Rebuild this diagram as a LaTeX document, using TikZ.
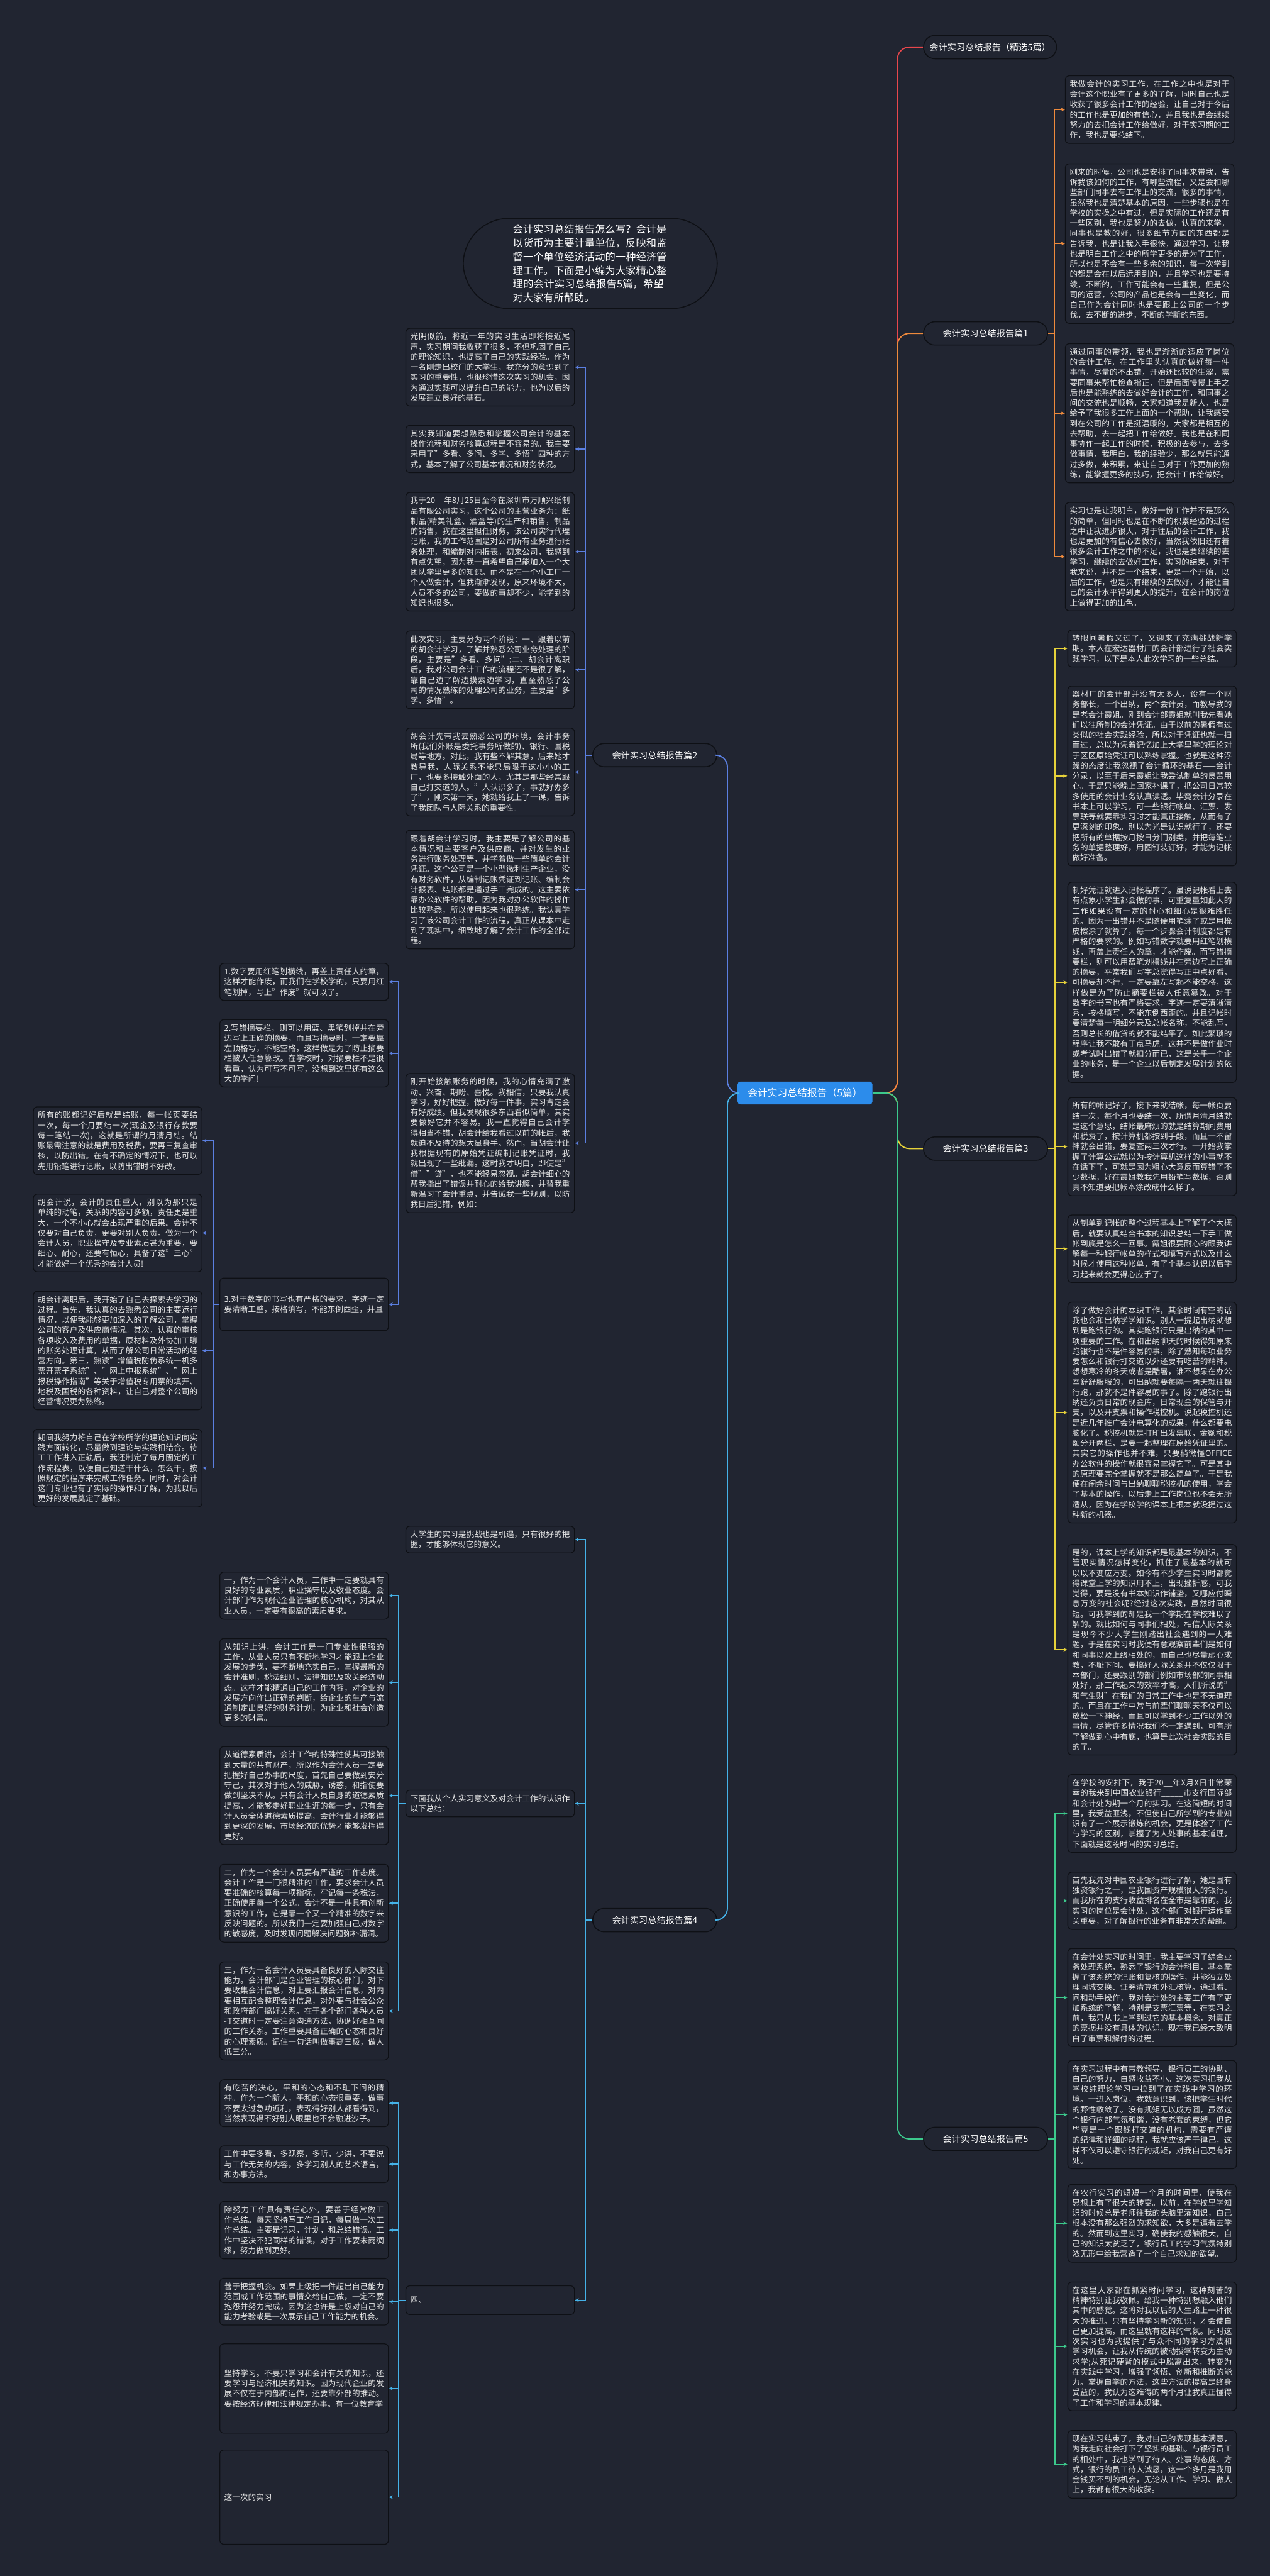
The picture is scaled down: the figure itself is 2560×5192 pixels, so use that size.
\documentclass[tikz,border=0pt]{standalone}
\usepackage{fontspec}
\setmainfont{Noto Sans CJK SC}
\usetikzlibrary{arrows.meta}
\XeTeXlinebreaklocale "zh"
\XeTeXlinebreakskip=0pt plus 1pt
\setlength{\parindent}{0pt}

\definecolor{bg}{HTML}{212531}
\definecolor{boxline}{HTML}{0E1015}
\definecolor{txt}{HTML}{E8E8E8}
\definecolor{rootblue}{HTML}{2C8CEB}
\definecolor{cred}{HTML}{E8474C}
\definecolor{corange}{HTML}{EE8A3C}
\definecolor{cyellow}{HTML}{E6D23A}
\definecolor{cgreen}{HTML}{3CC98C}
\definecolor{cblue}{HTML}{5B7FE0}
\definecolor{ccyan}{HTML}{45B2E8}

\tikzset{
  leaf/.style={draw=boxline, fill=bg, rounded corners=4pt, line width=0.8pt, text=txt,
    text width=161pt, inner xsep=4.5pt, inner ysep=4.5pt, align=justify,
    font=\fontsize{8}{10.3}\selectfont},
  branch/.style={draw=boxline, fill=bg, rounded corners=11.5pt, line width=1pt, text=white,
    minimum width=125pt, minimum height=23.5pt, inner xsep=6pt, font=\fontsize{9}{11}\selectfont},
  rootnode/.style={fill=rootblue, rounded corners=3pt, text=white, minimum width=136pt,
    minimum height=23pt, font=\fontsize{10}{12}\selectfont},
  intro/.style={draw=boxline, fill=bg, rounded corners=46pt, line width=1pt, text=white,
    text width=156pt, align=left, inner xsep=50pt, inner ysep=6pt,
    font=\fontsize{10.3}{13.85}\selectfont},
  link/.style={draw=#1, line width=1pt, -{Stealth[length=4pt,width=3.6pt]}},
  trunk/.style={draw=#1, line width=1.2pt, rounded corners=12pt}
}

\begin{document}
\begin{tikzpicture}[x=0.5pt,y=-0.5pt]
  \fill[bg] (0,0) rectangle (2560,5192);

  % centre and intro
  \node[rootnode] (root) at (1623,2203) {会计实习总结报告（5篇）};
  \node[intro] (intro) at (1190,531) {会计实习总结报告怎么写？会计是以货币为主要计量单位，反映和监督一个单位经济活动的一种经济管理工作。下面是小编为大家精心整理的会计实习总结报告5篇，希望对大家有所帮助。};

  % branches
  \node[branch, anchor=west] (p0) at (1861,95) {会计实习总结报告（精选5篇）};
  \node[branch, anchor=west] (p1) at (1861,672) {会计实习总结报告篇1};
  \node[branch, anchor=west] (p3) at (1861,2315) {会计实习总结报告篇3};
  \node[branch, anchor=west] (p5) at (1861,4311) {会计实习总结报告篇5};
  \node[branch, anchor=east] (p2) at (1446,1522) {会计实习总结报告篇2};
  \node[branch, anchor=east] (p4) at (1446,3870) {会计实习总结报告篇4};

  % 篇1
  \node[leaf, anchor=west] (a1) at (2147,221) {我做会计的实习工作，在工作之中也是对于会计这个职业有了更多的了解，同时自己也是收获了很多会计工作的经验，让自己对于今后的工作也是更加的有信心，并且我也是会继续努力的去把会计工作给做好，对于实习期的工作，我也是要总结下。};
  \node[leaf, anchor=west] (a2) at (2147,491) {刚来的时候，公司也是安排了同事来带我，告诉我该如何的工作，有哪些流程，又是会和哪些部门同事去有工作上的交流，很多的事情，虽然我也是清楚基本的原因，一些步骤也是在学校的实操之中有过，但是实际的工作还是有一些区别，我也是努力的去做，认真的来学，同事也是教的好，很多细节方面的东西都是告诉我，也是让我入手很快，通过学习，让我也是明白工作之中的所学更多的是为了工作，所以也是不会有一些多余的知识，每一次学到的都是会在以后运用到的，并且学习也是要持续，不断的，工作可能会有一些重复，但是公司的运营，公司的产品也是会有一些变化，而自己作为会计同时也是要跟上公司的一个步伐，去不断的进步，不断的学新的东西。};
  \node[leaf, anchor=west] (a3) at (2147,833) {通过同事的带领，我也是渐渐的适应了岗位的会计工作，在工作里头认真的做好每一件事情，尽量的不出错，开始还比较的生涩，需要同事来帮忙检查指正，但是后面慢慢上手之后也是能熟练的去做好会计的工作，和同事之间的交流也是顺畅，大家知道我是新人，也是给予了我很多工作上面的一个帮助，让我感受到在公司的工作是挺温暖的，大家都是相互的去帮助，去一起把工作给做好。我也是在和同事协作一起工作的时候，积极的去参与，去多做事情，我明白，我的经验少，那么就只能通过多做，来积累，来让自己对于工作更加的熟练，能掌握更多的技巧，把会计工作给做好。};
  \node[leaf, anchor=west] (a4) at (2147,1122) {实习也是让我明白，做好一份工作并不是那么的简单，但同时也是在不断的积累经验的过程之中让我进步很大，对于往后的会计工作，我也是更加的有信心去做好，当然我依旧还有着很多会计工作之中的不足，我也是要继续的去学习，继续的去做好工作，实习的结束，对于我来说，并不是一个结束，更是一个开始，以后的工作，也是只有继续的去做好，才能让自己的会计水平得到更大的提升，在会计的岗位上做得更加的出色。};

  % 篇3
  \node[leaf, anchor=west] (b1) at (2152,1307) {转眼间暑假又过了，又迎来了充满挑战新学期。本人在宏达器材厂的会计部进行了社会实践学习，以下是本人此次学习的一些总结。};
  \node[leaf, anchor=west] (b2) at (2152,1564) {器材厂的会计部并没有太多人，设有一个财务部长，一个出纳，两个会计员，而教导我的是老会计霞姐。刚到会计部霞姐就叫我先看她们以往所制的会计凭证。由于以前的暑假有过类似的社会实践经验，所以对于凭证也就一扫而过，总以为凭着记忆加上大学里学的理论对于区区原始凭证可以熟练掌握。也就是这种浮躁的态度让我忽视了会计循环的基石——会计分录，以至于后来霞姐让我尝试制单的良苦用心。于是只能晚上回家补课了，把公司日常较多使用的会计业务认真读透。毕竟会计分录在书本上可以学习，可一些银行帐单、汇票、发票联等就要靠实习时才能真正接触，从而有了更深刻的印象。别以为光是认识就行了，还要把所有的单据按月按日分门别类，并把每笔业务的单据整理好，用图钉装订好，才能为记帐做好准备。};
  \node[leaf, anchor=west] (b3) at (2152,1980) {制好凭证就进入记帐程序了。虽说记帐看上去有点象小学生都会做的事，可重复量如此大的工作如果没有一定的耐心和细心是很难胜任的。因为一出错并不是随便用笔涂了或是用橡皮檫涂了就算了，每一个步骤会计制度都是有严格的要求的。例如写错数字就要用红笔划横线，再盖上责任人的章，才能作废。而写错摘要栏，则可以用蓝笔划横线并在旁边写上正确的摘要，平常我们写字总觉得写正中点好看，可摘要却不行，一定要靠左写起不能空格，这样做是为了防止摘要栏被人任意篡改。对于数字的书写也有严格要求，字迹一定要清晰清秀，按格填写，不能东倒西歪的。并且记帐时要清楚每一明细分录及总帐名称，不能乱写，否则总长的借贷的就不能结平了。如此繁琐的程序让我不敢有丁点马虎，这并不是做作业时或考试时出错了就扣分而已，这是关乎一个企业的帐务，是一个企业以后制定发展计划的依据。};
  \node[leaf, anchor=west] (b4) at (2152,2311) {所有的帐记好了，接下来就结帐，每一帐页要结一次，每个月也要结一次，所谓月清月结就是这个意思，结帐最麻烦的就是结算期间费用和税费了，按计算机都按到手酸，而且一不留神就会出错，要复查两三次才行。一开始我掌握了计算公式就以为按计算机这样的小事就不在话下了，可就是因为粗心大意反而算错了不少数据，好在霞姐教我先用铅笔写数据，否则真不知道要把帐本涂改成什么样子。};
  \node[leaf, anchor=west] (b5) at (2152,2517) {从制单到记帐的整个过程基本上了解了个大概后，就要认真结合书本的知识总结一下手工做帐到底是怎么一回事。霞姐很要耐心的跟我讲解每一种银行帐单的样式和填写方式以及什么时候才使用这种帐单，有了个基本认识以后学习起来就会更得心应手了。};
  \node[leaf, anchor=west] (b6) at (2152,2847) {除了做好会计的本职工作，其余时间有空的话我也会和出纳学学知识。别人一提起出纳就想到是跑银行的。其实跑银行只是出纳的其中一项重要的工作。在和出纳聊天的时候得知原来跑银行也不是件容易的事，除了熟知每项业务要怎么和银行打交道以外还要有吃苦的精神。想想寒冷的冬天或者是酷暑，谁不想呆在办公室舒舒服服的，可出纳就要每隔一两天就往银行跑，那就不是件容易的事了。除了跑银行出纳还负责日常的现金库，日常现金的保管与开支，以及开支票和操作税控机。说起税控机还是近几年推广会计电算化的成果，什么都要电脑化了。税控机就是打印出发票联，金额和税额分开两栏，是要一起整理在原始凭证里的。其实它的操作也并不难，只要稍微懂OFFICE办公软件的操作就很容易掌握它了。可是其中的原理要完全掌握就不是那么简单了。于是我便在闲余时间与出纳聊聊税控机的使用，学会了基本的操作，以后走上工作岗位也不会无所适从，因为在学校学的课本上根本就没提过这种新的机器。};
  \node[leaf, anchor=west] (b7) at (2152,3325) {是的，课本上学的知识都是最基本的知识，不管现实情况怎样变化，抓住了最基本的就可以以不变应万变。如今有不少学生实习时都觉得课堂上学的知识用不上，出现挫折感，可我觉得，要是没有书本知识作铺垫，又哪应付瞬息万变的社会呢?经过这次实践，虽然时间很短。可我学到的却是我一个学期在学校难以了解的。就比如何与同事们相处，相信人际关系是现今不少大学生刚踏出社会遇到的一大难题，于是在实习时我便有意观察前辈们是如何和同事以及上级相处的，而自己也尽量虚心求教，不耻下问。要搞好人际关系并不仅仅限于本部门，还要跟别的部门例如市场部的同事相处好，那工作起来的效率才高，人们所说的"和气生财"在我们的日常工作中也是不无道理的。而且在工作中常与前辈们聊聊天不仅可以放松一下神经，而且可以学到不少工作以外的事情，尽管许多情况我们不一定遇到，可有所了解做到心中有底，也算是此次社会实践的目的了。};

  % 篇5
  \node[leaf, anchor=west] (e1) at (2152,3655) {在学校的安排下，我于20\_\_年X月X日非常荣幸的我来到中国农业银行\_\_\_\_\_市支行国际部和会计处为期一个月的实习。在这简短的时间里，我受益匪浅，不但使自己所学到的专业知识有了一个展示锻炼的机会，更是体验了工作与学习的区别，掌握了为人处事的基本道理，下面就是这段时间的实习总结。};
  \node[leaf, anchor=west] (e2) at (2152,3831) {首先我先对中国农业银行进行了解，她是国有独资银行之一，是我国资产规模很大的银行。而我所在的支行收益排名在全市是靠前的。我实习的岗位是会计处，这个部门对银行运作至关重要，对了解银行的业务有非常大的帮组。};
  \node[leaf, anchor=west] (e3) at (2152,4026) {在会计处实习的时间里，我主要学习了综合业务处理系统，熟悉了银行的会计科目，基本掌握了该系统的记账和复核的操作，并能独立处理同城交换、证券清算和外汇核算。通过看、问和动手操作，我对会计处的主要工作有了更加系统的了解，特别是支票汇票等，在实习之前，我只从书上学到过它的基本概念，对真正的票据并没有具体的认识。现在我已经大致明白了审票和解付的过程。};
  \node[leaf, anchor=west] (e4) at (2152,4262) {在实习过程中有带教领导、银行员工的协助、自己的努力，自感收益不小。这次实习把我从学校纯理论学习中拉到了在实践中学习的环境。一进入岗位，我就意识到，该把学生时代的野性收敛了。没有规矩无以成方圆，虽然这个银行内部气氛和谐，没有老套的束缚，但它毕竟是一个跟钱打交道的机构，需要有严谨的纪律和详细的规程，我就应该严于律己，这样不仅可以遵守银行的规矩，对我自己更有好处。};
  \node[leaf, anchor=west] (e5) at (2152,4481) {在农行实习的短短一个月的时间里，使我在思想上有了很大的转变。以前，在学校里学知识的时候总是老师往我的头脑里灌知识，自己根本没有那么强烈的求知欲，大多是逼着去学的。然而到这里实习，确使我的感触很大，自己的知识太贫乏了，银行员工的学习气氛特别浓无形中给我营造了一个自己求知的欲望。};
  \node[leaf, anchor=west] (e6) at (2152,4729) {在这里大家都在抓紧时间学习，这种刻苦的精神特别让我敬佩。给我一种特别想融入他们其中的感觉。这将对我以后的人生路上一种很大的推进。只有坚持学习新的知识，才会使自己更加提高，而这里就有这样的气氛。同时这次实习也为我提供了与众不同的学习方法和学习机会，让我从传统的被动授学转变为主动求学;从死记硬背的模式中脱离出来，转变为在实践中学习，增强了领悟、创新和推断的能力。掌握自学的方法，这些方法的提高是终身受益的，我认为这难得的两个月让我真正懂得了工作和学习的基本规律。};
  \node[leaf, anchor=west] (e7) at (2152,4967) {现在实习结束了，我对自己的表现基本满意，为我走向社会打下了坚实的基础。与银行员工的相处中，我也学到了待人、处事的态度、方式，银行的员工待人诚恳，这一个多月是我用金钱买不到的机会，无论从工作、学习、做人上，我都有很大的收获。};

  % 篇2
  \node[leaf, anchor=east] (f1) at (1159,740) {光阴似箭，将近一年的实习生活即将接近尾声，实习期间我收获了很多，不但巩固了自己的理论知识，也提高了自己的实践经验。作为一名刚走出校门的大学生，我充分的意识到了实习的重要性，也很珍惜这次实习的机会，因为通过实践可以提升自己的能力，也为以后的发展建立良好的基石。};
  \node[leaf, anchor=east] (f2) at (1159,905) {其实我知道要想熟悉和掌握公司会计的基本操作流程和财务核算过程是不容易的。我主要采用了"多看、多问、多学、多悟"四种的方式，基本了解了公司基本情况和财务状况。};
  \node[leaf, anchor=east] (f3) at (1159,1112) {我于20\_\_年8月25日至今在深圳市万顺兴纸制品有限公司实习，这个公司的主营业务为：纸制品(精美礼盒、酒盒等)的生产和销售，制品的销售，我在这里担任财务，该公司实行代理记账，我的工作范围是对公司所有业务进行账务处理，和编制对内报表。初来公司，我感到有点失望，因为我一直希望自己能加入一个大团队学里更多的知识。而不是在一个小工厂一个人做会计，但我渐渐发现，原来环境不大，人员不多的公司，要做的事却不少，能学到的知识也很多。};
  \node[leaf, anchor=east] (f4) at (1159,1350) {此次实习，主要分为两个阶段：一、跟着以前的胡会计学习，了解并熟悉公司业务处理的阶段，主要是"多看、多问";二、胡会计离职后，我对公司会计工作的流程还不是很了解，靠自己边了解边摸索边学习，直至熟悉了公司的情况熟练的处理公司的业务，主要是"多学、多悟"。};
  \node[leaf, anchor=east] (f5) at (1159,1556) {胡会计先带我去熟悉公司的环境，会计事务所(我们外账是委托事务所做的)、银行、国税局等地方。对此，我有些不解其意，后来她才教导我，人际关系不能只局限于这小小的工厂，也要多接触外面的人，尤其是那些经常跟自己打交道的人。"人认识多了，事就好办多了"，刚来第一天，她就给我上了一课，告诉了我团队与人际关系的重要性。};
  \node[leaf, anchor=east] (f6) at (1159,1793) {跟着胡会计学习时，我主要是了解公司的基本情况和主要客户及供应商，并对发生的业务进行账务处理等，并学着做一些简单的会计凭证。这个公司是一个小型微利生产企业，没有财务软件，从编制记账凭证到记账、编制会计报表、结账都是通过手工完成的。这主要依靠办公软件的帮助，因为我对办公软件的操作比较熟悉，所以使用起来也很熟练。我认真学习了该公司会计工作的流程，真正从课本中走到了现实中，细致地了解了会计工作的全部过程。};
  \node[leaf, anchor=east] (f7) at (1159,2304) {刚开始接触账务的时候，我的心情充满了激动、兴奋、期盼、喜悦。我相信，只要我认真学习，好好把握，做好每一件事，实习肯定会有好成绩。但我发现很多东西看似简单，其实要做好它并不容易。我一直觉得自己会计学得相当不错，胡会计给我看过以前的帐后，我就迫不及待的想大显身手。然而，当胡会计让我根据现有的原始凭证编制记账凭证时，我就出现了一些纰漏。这时我才明白，即使是"借""贷"，也不能轻易忽视。胡会计细心的帮我指出了错误并耐心的给我讲解，并替我重新温习了会计重点，并告诫我一些规则，以防我日后犯错，例如：};

  \node[leaf, anchor=east] (g1) at (784,1979) {1.数字要用红笔划横线，再盖上责任人的章，这样才能作废，而我们在学校学的，只要用红笔划掉，写上"作废"就可以了。};
  \node[leaf, anchor=east] (g2) at (784,2123) {2.写错摘要栏，则可以用蓝、黑笔划掉并在旁边写上正确的摘要，而且写摘要时，一定要靠左顶格写，不能空格，这样做是为了防止摘要栏被人任意篡改。在学校时，对摘要栏不是很看重，认为可写不可写，没想到这里还有这么大的学问!};
  \node[leaf, anchor=east, minimum height=53pt] (g3) at (784,2629) {3.对于数字的书写也有严格的要求，字迹一定要清晰工整，按格填写，不能东倒西歪，并且};

  \node[leaf, anchor=east] (h1) at (408,2299) {所有的账都记好后就是结账，每一帐页要结一次，每一个月要结一次(现金及银行存款要每一笔结一次)，这就是所谓的月清月结。结账最需注意的就是费用及税费，要再三复查审核，以防出错。在有不确定的情况下，也可以先用铅笔进行记账，以防出错时不好改。};
  \node[leaf, anchor=east] (h2) at (408,2485) {胡会计说，会计的责任重大，别以为那只是单纯的动笔，关系的内容可多额，责任更是重大，一个不小心就会出现严重的后果。会计不仅要对自己负责，更要对别人负责。做为一个会计人员，职业操守及专业素质甚为重要，要细心、耐心，还要有恒心，具备了这"三心"才能做好一个优秀的会计人员!};
  \node[leaf, anchor=east] (h3) at (408,2722) {胡会计离职后，我开始了自己去探索去学习的过程。首先，我认真的去熟悉公司的主要运行情况，以便我能够更加深入的了解公司，掌握公司的客户及供应商情况。其次，认真的审核各项收入及费用的单据，原材料及外协加工聊的账务处理计算，从而了解公司日常活动的经营方向。第三，熟读"增值税防伪系统一机多票开票子系统"、"网上申报系统"、"网上报税操作指南"等关于增值税专用票的填开、地税及国税的各种资料，让自己对整个公司的经营情况更为熟络。};
  \node[leaf, anchor=east] (h4) at (408,2959) {期间我努力将自己在学校所学的理论知识向实践方面转化，尽量做到理论与实践相结合。待工工作进入正轨后，我还制定了每月固定的工作流程表，以便自己知道干什么，怎么干，按照规定的程序来完成工作任务。同时，对会计这门专业也有了实际的操作和了解，为我以后更好的发展奠定了基础。};

  % 篇4
  \node[leaf, anchor=east] (i1) at (1159,3103) {大学生的实习是挑战也是机遇，只有很好的把握，才能够体现它的意义。};
  \node[leaf, anchor=east] (i2) at (1159,3635) {下面我从个人实习意义及对会计工作的认识作以下总结：};
  \node[leaf, anchor=east, minimum height=29pt] (i3) at (1159,4636) {四、};

  \node[leaf, anchor=east] (j1) at (784,3216) {一，作为一个会计人员，工作中一定要就具有良好的专业素质，职业操守以及敬业态度。会计部门作为现代企业管理的核心机构，对其从业人员，一定要有很高的素质要求。};
  \node[leaf, anchor=east] (j2) at (784,3391) {从知识上讲，会计工作是一门专业性很强的工作，从业人员只有不断地学习才能跟上企业发展的步伐，要不断地充实自己，掌握最新的会计准则，税法细则，法律知识及攻关经济动态。这样才能精通自己的工作内容，对企业的发展方向作出正确的判断，给企业的生产与流通制定出良好的财务计划，为企业和社会创造更多的财富。};
  \node[leaf, anchor=east] (j3) at (784,3619) {从道德素质讲，会计工作的特殊性使其可接触到大量的共有财产，所以作为会计人员一定要把握好自己办事的尺度，首先自己要做到安分守己，其次对于他人的威胁，诱惑，和指使要做到坚决不从。只有会计人员自身的道德素质提高，才能够走好职业生涯的每一步，只有会计人员全体道德素质提高，会计行业才能够得到更深的发展，市场经济的优势才能够发挥得更好。};
  \node[leaf, anchor=east] (j4) at (784,3836) {二，作为一个会计人员要有严谨的工作态度。会计工作是一门很精准的工作，要求会计人员要准确的核算每一项指标，牢记每一条税法，正确使用每一个公式。会计不是一件具有创新意识的工作，它是靠一个又一个精准的数字来反映问题的。所以我们一定要加强自己对数字的敏感度，及时发现问题解决问题弥补漏洞。};
  \node[leaf, anchor=east] (j5) at (784,4053) {三，作为一名会计人员要具备良好的人际交往能力。会计部门是企业管理的核心部门，对下要收集会计信息，对上要汇报会计信息，对内要相互配合整理会计信息，对外要与社会公众和政府部门搞好关系。在于各个部门各种人员打交道时一定要注意沟通方法，协调好相互间的工作关系。工作重要具备正确的心态和良好的心理素质。记住一句话叫做事高三极，做人低三分。};

  \node[leaf, anchor=east] (k1) at (784,4239) {有吃苦的决心，平和的心态和不耻下问的精神。作为一个新人，平和的心态很重要，做事不要太过急功近利，表现得好别人都看得到，当然表现得不好别人眼里也不会融进沙子。};
  \node[leaf, anchor=east] (k2) at (784,4362) {工作中要多看，多观察，多听，少讲，不要说与工作无关的内容，多学习别人的艺术语言，和办事方法。};
  \node[leaf, anchor=east] (k3) at (784,4495) {除努力工作具有责任心外，要善于经常做工作总结。每天坚持写工作日记，每周做一次工作总结。主要是记录，计划，和总结错误。工作中坚决不犯同样的错误，对于工作要未雨绸缪，努力做到更好。};
  \node[leaf, anchor=east] (k4) at (784,4639) {善于把握机会。如果上级把一件超出自己能力范围或工作范围的事情交给自己做，一定不要抱怨并努力完成，因为这也许是上级对自己的能力考验或是一次展示自己工作能力的机会。};
  \node[leaf, anchor=east, minimum height=90pt] (k5) at (784,4814) {坚持学习。不要只学习和会计有关的知识，还要学习与经济相关的知识。因为现代企业的发展不仅在于内部的运作，还要靠外部的推动。要按经济规律和法律规定办事。有一位教育学};
  \node[leaf, anchor=east, minimum height=95pt] (k6) at (784,5033) {这一次的实习};

  % root to branches
  \draw[trunk=cred] (root.east) -- ++(50,0) |- (p0.west);
  \draw[trunk=corange] (root.east) -- ++(50,0) |- (p1.west);
  \draw[trunk=cyellow] (root.east) -- ++(50,0) |- (p3.west);
  \draw[trunk=cgreen] (root.east) -- ++(50,0) |- (p5.west);
  \draw[trunk=cblue] (root.west) -- ++(-20,0) |- (p2.east);
  \draw[trunk=ccyan] (root.west) -- ++(-20,0) |- (p4.east);

  % branches to leaves
  \foreach \c in {a1,a2,a3,a4}
    \draw[link=corange] (p1.east) -- ++(13,0) |- (\c.west);
  \foreach \c in {b1,b2,b3,b4,b5,b6,b7}
    \draw[link=cyellow] (p3.east) -- ++(14,0) |- (\c.west);
  \foreach \c in {e1,e2,e3,e4,e5,e6,e7}
    \draw[link=cgreen] (p5.east) -- ++(14,0) |- (\c.west);
  \foreach \c in {f1,f2,f3,f4,f5,f6,f7}
    \draw[link=cblue] (p2.west) -- ++(-13,0) |- (\c.east);
  \foreach \c in {g1,g2,g3}
    \draw[link=cblue] (f7.west) -- ++(-14,0) |- (\c.east);
  \foreach \c in {h1,h2,h3,h4}
    \draw[link=cblue] (g3.west) -- ++(-13,0) |- (\c.east);
  \foreach \c in {i1,i2,i3}
    \draw[link=ccyan] (p4.west) -- ++(-13,0) |- (\c.east);
  \foreach \c in {j1,j2,j3,j4,j5}
    \draw[link=ccyan] (i2.west) -- ++(-14,0) |- (\c.east);
  \foreach \c in {k1,k2,k3,k4,k5,k6}
    \draw[link=ccyan] (i3.west) -- ++(-14,0) |- (\c.east);
\end{tikzpicture}
\end{document}
